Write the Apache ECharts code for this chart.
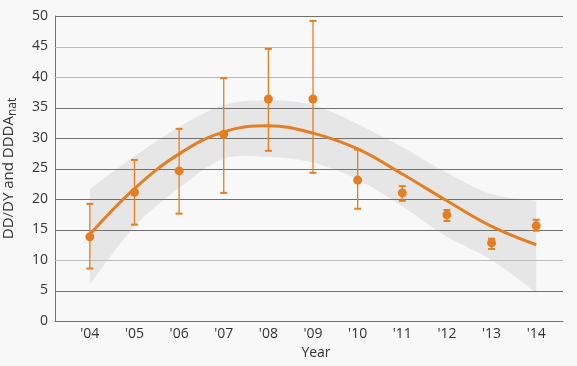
<!DOCTYPE html>
<html>
<head>
<meta charset="utf-8">
<script src="https://cdn.jsdelivr.net/npm/echarts@6/dist/echarts.min.js"></script>
<style>
html,body{margin:0;padding:0;background:#f8f8f8;}
#chart{width:577px;height:366px;}
</style>
</head>
<body>
<div id="chart"></div>
<script>
// ---- data ----
const years = [2004, 2005, 2006, 2007, 2008, 2009, 2010, 2011, 2012, 2013, 2014];
const meanValues = [13.8, 21.1, 24.6, 30.6, 36.4, 36.4, 23.1, 21.0, 17.4, 12.8, 15.6];
const errUpper = [19.2, 26.4, 31.5, 39.8, 44.6, 49.2, 28.1, 22.1, 18.2, 13.5, 16.6];
const errLower = [8.6, 15.8, 17.6, 21.0, 27.9, 24.3, 18.4, 19.7, 16.4, 11.8, 14.8];
const fitValues = [14.2, 21.7, 27.4, 31.0, 32.0, 30.8, 28.2, 24.1, 19.7, 15.5, 12.5];
const bandUpper = [21.6, 27.0, 31.8, 35.4, 36.2, 35.4, 32.3, 28.5, 24.3, 20.8, 19.7];
const bandLower = [6.0, 15.5, 21.8, 26.6, 26.9, 26.0, 23.2, 18.8, 13.8, 10.0, 4.6];
const yTicks = [0, 5, 10, 15, 20, 25, 30, 35, 40, 45, 50];
const lightTicks = [10, 40, 45];

const ORANGE = '#e37f22';
const DARK = '#707070';
const LIGHT = '#bcbcbc';
const FONT = 'Open Sans';

const chart = echarts.init(document.getElementById('chart'), null, {renderer: 'canvas'});

function catmullPath(pts, startCmd) {
  let d = startCmd + pts[0][0] + ' ' + pts[0][1];
  for (let i = 0; i < pts.length - 1; i++) {
    const p0 = pts[Math.max(i - 1, 0)], p1 = pts[i], p2 = pts[i + 1], p3 = pts[Math.min(i + 2, pts.length - 1)];
    const c1x = p1[0] + (p2[0] - p0[0]) / 6, c1y = p1[1] + (p2[1] - p0[1]) / 6;
    const c2x = p2[0] - (p3[0] - p1[0]) / 6, c2y = p2[1] - (p3[1] - p1[1]) / 6;
    d += ' C' + c1x + ' ' + c1y + ' ' + c2x + ' ' + c2y + ' ' + p2[0] + ' ' + p2[1];
  }
  return d;
}

const option = {
  backgroundColor: '#f8f8f8',
  animation: false,
  grid: {left: 55, right: 14, top: 16, bottom: 45, outerBoundsMode: 'none', containLabel: false},
  xAxis: {
    type: 'value',
    min: 2003.22,
    max: 2014.6,
    name: 'Year',
    nameLocation: 'middle',
    nameGap: 24,
    nameTextStyle: {color: '#333', fontSize: 14, fontFamily: FONT, padding: [0, 0, 0, 14]},
    axisLine: {show: true, lineStyle: {color: DARK, width: 1}},
    axisTick: {show: false},
    splitLine: {show: false},
    axisLabel: {
      customValues: years,
      margin: 6,
      color: '#333',
      fontSize: 14,
      fontFamily: FONT,
      formatter: v => "'" + String(Math.round(v)).slice(2)
    }
  },
  yAxis: {
    type: 'value',
    min: 0,
    max: 50,
    interval: 5,
    name: '{a|DD/DY and DDDA}{b|nat}',
    nameLocation: 'middle',
    nameRotate: 90,
    nameGap: 36,
    nameTextStyle: {
      rich: {
        a: {fontSize: 15, fontFamily: FONT, color: '#333'},
        b: {fontSize: 12, fontFamily: FONT, color: '#333', padding: [9, 0, 0, 0]}
      }
    },
    axisLine: {show: true, lineStyle: {color: DARK, width: 1}},
    axisTick: {show: false},
    axisLabel: {margin: 7, color: '#333', fontSize: 14, fontFamily: FONT},
    splitLine: {show: false}
  },
  series: [
    {
      name: 'band',
      type: 'custom',
      silent: true,
      z: 1,
      data: [[years[0], bandLower[0], bandUpper[0]]],
      encode: {x: 0, y: [1, 2]},
      renderItem: function (params, api) {
        const up = years.map((y, i) => api.coord([y, bandUpper[i]]));
        const lo = years.map((y, i) => api.coord([y, bandLower[i]])).reverse();
        let d = catmullPath(up, 'M');
        d += ' L' + lo[0][0] + ' ' + lo[0][1];
        d += catmullPath(lo, ' L').replace(/^ L[^C]*/, '');
        d += ' Z';
        return {type: 'path', shape: {pathData: d}, style: {fill: '#e6e6e6', stroke: null}};
      }
    },
    {
      name: 'grid',
      type: 'custom',
      silent: true,
      z: 2,
      data: yTicks.map(v => [v]),
      encode: {y: 0},
      renderItem: function (params, api) {
        const v = api.value(0);
        const cs = params.coordSys;
        const p = api.coord([2010, v]);
        const y = Math.round(p[1]) + 0.5;
        return {
          type: 'line',
          shape: {x1: cs.x, y1: y, x2: cs.x + cs.width, y2: y},
          style: {stroke: lightTicks.indexOf(v) >= 0 ? LIGHT : DARK, lineWidth: 1}
        };
      }
    },
    {
      name: 'errorBars',
      type: 'custom',
      z: 3,
      encode: {x: 0, y: [1, 2]},
      data: years.map((y, i) => [y, errLower[i], errUpper[i]]),
      renderItem: function (params, api) {
        const x = api.value(0);
        const lo = api.coord([x, api.value(1)]);
        const hi = api.coord([x, api.value(2)]);
        const hw = 3.5;
        return {
          type: 'group',
          children: [
            {type: 'line', shape: {x1: hi[0], y1: hi[1], x2: lo[0], y2: lo[1]}, style: {stroke: ORANGE, lineWidth: 1.3}},
            {type: 'line', shape: {x1: hi[0] - hw, y1: hi[1], x2: hi[0] + hw, y2: hi[1]}, style: {stroke: ORANGE, lineWidth: 2}},
            {type: 'line', shape: {x1: lo[0] - hw, y1: lo[1], x2: lo[0] + hw, y2: lo[1]}, style: {stroke: ORANGE, lineWidth: 2}}
          ]
        };
      }
    },
    {
      name: 'fit',
      type: 'line',
      smooth: 0.4,
      symbol: 'none',
      z: 4,
      lineStyle: {color: ORANGE, width: 3},
      data: years.map((y, i) => [y, fitValues[i]])
    },
    {
      name: 'mean',
      type: 'scatter',
      symbol: 'circle',
      symbolSize: 9,
      z: 5,
      itemStyle: {color: ORANGE, opacity: 1},
      data: years.map((y, i) => [y, meanValues[i]])
    }
  ]
};
chart.setOption(option);
</script>
</body>
</html>
